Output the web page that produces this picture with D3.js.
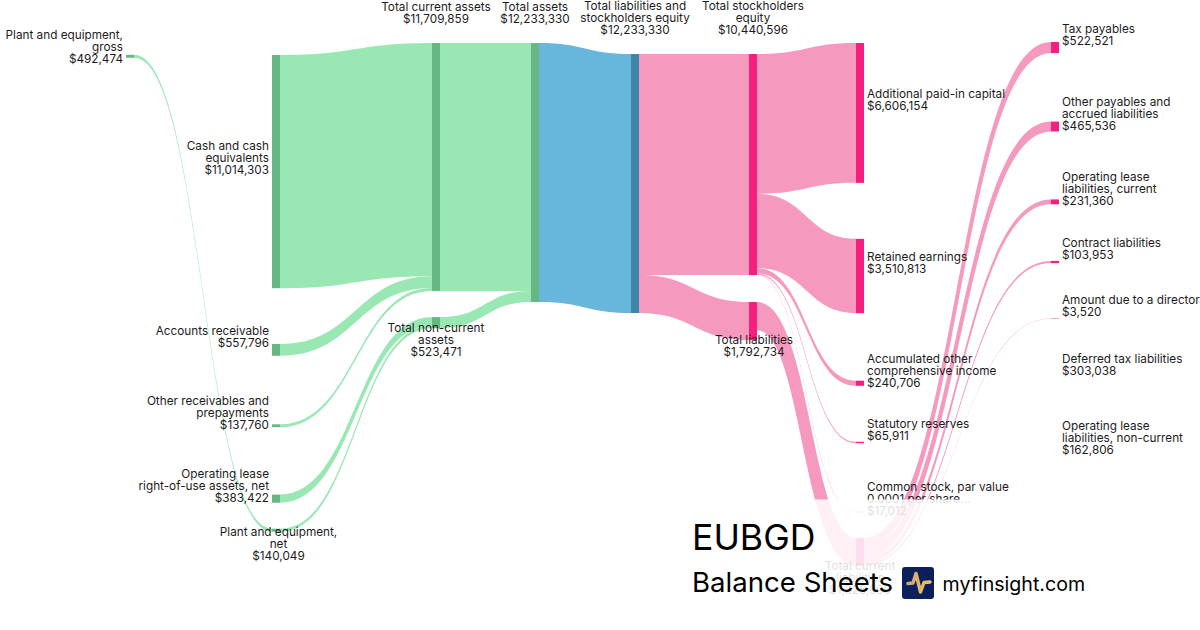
<!DOCTYPE html>
<html>
<head>
<meta charset="utf-8">
<script src="https://cdn.jsdelivr.net/npm/d3@7"></script>
<style>
  html, body { margin: 0; padding: 0; background: #fff; }
  svg { display: block; }
  text { font-family: Inter, "Noto Sans", sans-serif; }
</style>
</head>
<body>
<div id="chart"></div>
<script>
// nodes, one entry per box, label lines as printed
const nodeIds = ['ppeGross', 'cash', 'receivable', 'otherRec', 'rou', 'ppeNet', 'currentAssets', 'nonCurrentAssets',
  'totalAssets', 'liabEquity', 'equity', 'liabilities', 'apic', 'retained', 'aoci', 'statutory', 'common',
  'currentLiab', 'taxPay', 'otherPay', 'leaseCurrent', 'contract', 'director', 'deferredTax', 'leaseNonCurrent'];
const nodeLines = [
  ['Plant and equipment,', 'gross'], ['Cash and cash', 'equivalents'], ['Accounts receivable'],
  ['Other receivables and', 'prepayments'], ['Operating lease', 'right-of-use assets, net'],
  ['Plant and equipment,', 'net'], ['Total current assets'], ['Total non-current', 'assets'],
  ['Total assets'], ['Total liabilities and', 'stockholders equity'], ['Total stockholders', 'equity'],
  ['Total liabilities'], ['Additional paid-in capital'], ['Retained earnings'],
  ['Accumulated other', 'comprehensive income'], ['Statutory reserves'],
  ['Common stock, par value', '0.0001 per share...'], ['Total current', 'liabilities'],
  ['Tax payables'], ['Other payables and', 'accrued liabilities'], ['Operating lease', 'liabilities, current'],
  ['Contract liabilities'], ['Amount due to a director'], ['Deferred tax liabilities'],
  ['Operating lease', 'liabilities, non-current']];
const nodeValues = [492474, 11014303, 557796, 137760, 383422, 140049, 11709859, 523471, 12233330, 12233330,
  10440596, 1792734, 6606154, 3510813, 240706, 65911, 17012, 1326890, 522521, 465536, 231360, 103953, 3520,
  303038, 162806];

// flows
const linkSources = ['ppeGross', 'cash', 'receivable', 'otherRec', 'rou', 'ppeNet', 'currentAssets',
  'nonCurrentAssets', 'totalAssets', 'liabEquity', 'liabEquity', 'equity', 'equity', 'equity', 'equity', 'equity',
  'liabilities', 'currentLiab', 'currentLiab', 'currentLiab', 'currentLiab', 'currentLiab'];
const linkTargets = ['ppeNet', 'currentAssets', 'currentAssets', 'currentAssets', 'nonCurrentAssets',
  'nonCurrentAssets', 'totalAssets', 'totalAssets', 'liabEquity', 'equity', 'liabilities', 'apic', 'retained',
  'aoci', 'statutory', 'common', 'currentLiab', 'taxPay', 'otherPay', 'leaseCurrent', 'contract', 'director'];
const linkValues = [140049, 11014303, 557796, 137760, 383422, 140049, 11709859, 523471, 12233330, 10440596,
  1792734, 6606154, 3510813, 240706, 65911, 17012, 1326890, 522521, 465536, 231360, 103953, 3520];

// layout, kept apart from the values
const width = 1200, height = 630, nodeWidth = 8, minBand = 0.4;
const columns = [
  ['ppeGross'],
  ['cash', 'receivable', 'otherRec', 'rou', 'ppeNet'],
  ['currentAssets', 'nonCurrentAssets'],
  ['totalAssets'],
  ['liabEquity'],
  ['equity', 'liabilities'],
  ['apic', 'retained', 'aoci', 'statutory', 'common', 'currentLiab'],
  ['taxPay', 'otherPay', 'leaseCurrent', 'contract', 'director', 'deferredTax', 'leaseNonCurrent']
];
// space above each node in a column
const columnGaps = [
  [54.8], [55, 55.8, 68.5, 67.4, 26], [43, 26.2], [43], [54],
  [54, 27], [43, 56, 67.5, 56, 68.6, 25.6], [42, 68.5, 68, 56.6, 55.3, 59.4, 73]
];
const columnX = d3.scaleLinear().domain(d3.range(8)).range([126, 272, 432, 531, 631, 749, 856, 1051]);
const flowHeight = d3.scaleLinear().domain([0, 12233330]).range([0, 259]);
const labelSide = {
  ppeGross: 'left', cash: 'left', receivable: 'left', otherRec: 'left', rou: 'left', ppeNet: 'below',
  currentAssets: 'above', nonCurrentAssets: 'below', totalAssets: 'above', liabEquity: 'above', equity: 'above',
  liabilities: 'below', currentLiab: 'below'
};
const labelNudge = { ppeGross: 3, cash: -1 };
const labelNudgeX = { ppeNet: 2.5, liabilities: 1 };
const nodeFill = d3.scaleThreshold().domain([4, 5]).range(['#67b783', '#3d85a9', '#f61e7e']);
const linkFill = d3.scaleThreshold().domain([3, 4]).range(['#99e8b4', '#69b6dd', '#f59abe']);

const svg = d3.select('#chart').append('svg').attr('width', width).attr('height', height);

const fmt = d3.format('$,');
const nodes = new Map(nodeIds.map((id, i) => [id, { id, lines: nodeLines[i], value: nodeValues[i] }]));
linkSources.forEach((s, i) => {
  nodes.get(s).outSum = (nodes.get(s).outSum || 0) + linkValues[i];
  nodes.get(linkTargets[i]).inSum = (nodes.get(linkTargets[i]).inSum || 0) + linkValues[i];
});

columns.forEach((col, c) => {
  let y = 0;
  col.forEach((id, i) => {
    const n = nodes.get(id);
    n.col = c;
    n.x0 = columnX(c);
    n.x1 = n.x0 + nodeWidth;
    n.y0 = y + columnGaps[c][i];
    n.y1 = n.y0 + flowHeight(Math.max(n.outSum || 0, n.inSum || 0));
    n.outY = n.inY = n.y0;
    y = n.y1;
  });
});

const links = linkValues.map((v, i) => {
  const s = nodes.get(linkSources[i]), t = nodes.get(linkTargets[i]), w = flowHeight(v);
  const l = { col: s.col, x0: s.x1, x1: t.x0, sy: s.outY, ty: t.inY, w: Math.max(w, minBand) };
  s.outY += w;
  t.inY += w;
  return l;
});

// steep bands keep some body: edges' control points pull apart sideways
const steepness = d3.scaleLinear().domain([1, 2.4, 3.4]).range([0, 1, 0]).clamp(true);
function band(l) {
  const p = d3.path(), xm = (l.x0 + l.x1) / 2;
  const dy = l.ty - l.sy;
  const spread = 0.3 * l.w * steepness(Math.abs(dy) / (l.x1 - l.x0)) * Math.sign(dy) / 2;
  p.moveTo(l.x0, l.sy);
  p.bezierCurveTo(xm + spread, l.sy, xm + spread, l.ty, l.x1, l.ty);
  p.lineTo(l.x1, l.ty + l.w);
  p.bezierCurveTo(xm - spread, l.ty + l.w, xm - spread, l.sy + l.w, l.x0, l.sy + l.w);
  p.closePath();
  return p.toString();
}

svg.append('g').selectAll('path').data(links).join('path')
  .attr('d', band)
  .attr('fill', d => linkFill(d.col));

const visibleNodes = [...nodes.values()].filter(n => n.y1 > n.y0);
svg.append('g').selectAll('rect').data(visibleNodes).join('rect')
  .attr('x', d => d.x0)
  .attr('y', d => d.y0)
  .attr('width', nodeWidth)
  .attr('height', d => Math.max(d.y1 - d.y0, minBand))
  .attr('fill', d => nodeFill(d.col));

const lineHeight = 12;
const labels = svg.append('g').selectAll('text').data([...nodes.values()]).join('text')
  .attr('font-size', 11.75)
  .attr('fill', '#1c1c1c')
  .attr('text-anchor', d => {
    const side = labelSide[d.id];
    if (side === 'left') return 'end';
    return side ? 'middle' : 'start';
  });

labels.each(function (d) {
  const side = labelSide[d.id] || 'right';
  const lines = [...d.lines, fmt(d.value)];
  const mid = (d.y0 + d.y1) / 2;
  let first;
  if (side === 'above') first = d.y0 - 24.5 - (lines.length - 1) * lineHeight;
  else if (side === 'below') first = d.y1 - 0.5;
  else first = mid - 13 - (lines.length - 1) * lineHeight / 2;
  first += labelNudge[d.id] || 0;
  const x = (side === 'left' ? d.x0 - 3 : side === 'right' ? d.x1 + 3 : (d.x0 + d.x1) / 2) + (labelNudgeX[d.id] || 0);
  d3.select(this).selectAll('tspan').data(lines).join('tspan')
    .attr('x', x)
    .attr('y', (t, i) => first + i * lineHeight + 4.3)
    .text(t => t);
});

// white veil behind the title block
svg.append('rect')
  .attr('x', 680).attr('y', 499.4)
  .attr('width', 420).attr('height', 130.6)
  .attr('fill', '#fff').attr('opacity', 0.85);

svg.append('text').attr('x', 692).attr('y', 550)
  .attr('font-size', 35.6).attr('fill', '#000').text('EUBGD');
svg.append('text').attr('x', 692).attr('y', 592)
  .attr('font-size', 27.6).attr('fill', '#000').text('Balance Sheets');

const logo = svg.append('g').attr('transform', 'translate(902,567)');
logo.append('rect').attr('width', 32).attr('height', 32).attr('rx', 3).attr('fill', '#0a1f5c');
const gold = svg.append('defs').append('linearGradient').attr('id', 'gold');
gold.append('stop').attr('offset', '0').attr('stop-color', '#cfa47a');
gold.append('stop').attr('offset', '1').attr('stop-color', '#f2c25e');
logo.append('path')
  .attr('d', 'M6,16.5 L11,16 L14,6.5 L18.5,25 L22,15.5 L28,15')
  .attr('fill', 'none').attr('stroke', 'url(#gold)').attr('stroke-width', 3.5)
  .attr('stroke-linecap', 'round').attr('stroke-linejoin', 'round');

svg.append('text').attr('x', 942.5).attr('y', 591)
  .attr('font-size', 19.6).attr('fill', '#000').text('myfinsight.com');
</script>
</body>
</html>
